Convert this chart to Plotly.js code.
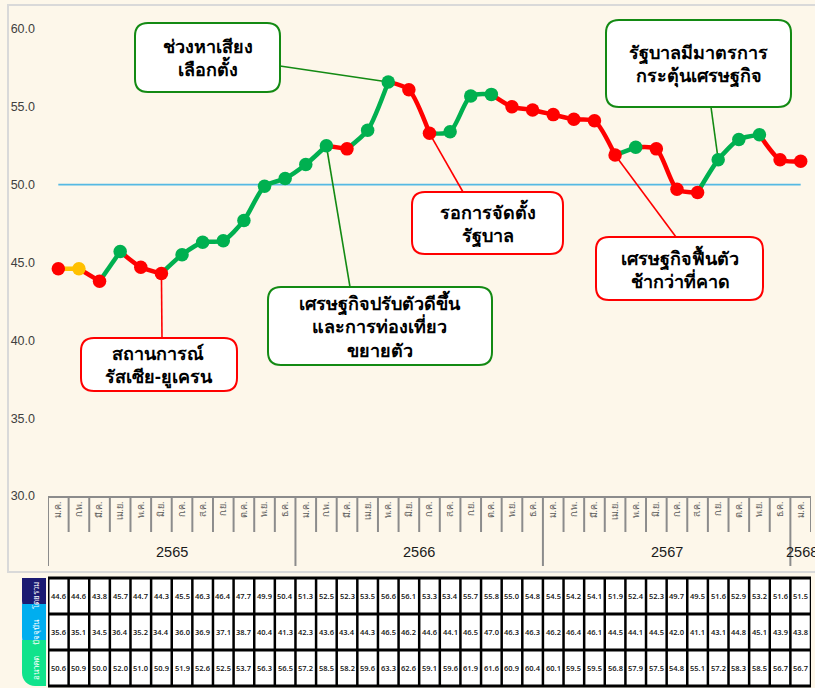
<!DOCTYPE html>
<html><head><meta charset="utf-8">
<script src="https://cdn.plot.ly/plotly-3.0.1.min.js"></script>
<style>html,body{margin:0;padding:0;background:#FDF7EA;overflow:hidden}#chart{width:815px;height:688px;}</style>
</head><body><div id="chart"></div>
<script>
// ---------------- data ----------------
const monthLabels = ['ม.ค.','ก.พ.','มี.ค.','เม.ย.','พ.ค.','มิ.ย.','ก.ค.','ส.ค.','ก.ย.','ต.ค.','พ.ย.','ธ.ค.',
  'ม.ค.','ก.พ.','มี.ค.','เม.ย.','พ.ค.','มิ.ย.','ก.ค.','ส.ค.','ก.ย.','ต.ค.','พ.ย.','ธ.ค.',
  'ม.ค.','ก.พ.','มี.ค.','เม.ย.','พ.ค.','มิ.ย.','ก.ค.','ส.ค.','ก.ย.','ต.ค.','พ.ย.','ธ.ค.',
  'ม.ค.'];
const yearLabels = ['2565','2566','2567','2568'];
const yearStart = [0, 12, 24, 36];
const overall = [44.6,44.6,43.8,45.7,44.7,44.3,45.5,46.3,46.4,47.7,49.9,50.4,
  51.3,52.5,52.3,53.5,56.6,56.1,53.3,53.4,55.7,55.8,55.0,54.8,
  54.5,54.2,54.1,51.9,52.4,52.3,49.7,49.5,51.6,52.9,53.2,51.6,51.5];
const current = [35.6,35.1,34.5,36.4,35.2,34.4,36.0,36.9,37.1,38.7,40.4,41.3,
  42.3,43.6,43.4,44.3,46.5,46.2,44.6,44.1,46.5,47.0,46.3,46.3,
  46.2,46.4,46.1,44.5,44.1,44.5,42.0,41.1,43.1,44.8,45.1,43.9,43.8];
const future = [50.6,50.9,50.0,52.0,51.0,50.9,51.9,52.6,52.5,53.7,56.3,56.5,
  57.2,58.5,58.2,59.6,63.3,62.6,59.1,59.6,61.9,61.6,60.9,60.4,
  60.1,59.5,59.5,56.8,57.9,57.5,54.8,55.1,57.2,58.3,58.5,56.7,56.7];
const rowNames = ['โดยรวม','ปัจจุบัน','อนาคต'];
const yTicks = [30,35,40,45,50,55,60];
const baseline = 50;
// callouts: text, anchor point index, colour type
const callouts = [
  {text:'ช่วงหาเสียง<br>เลือกตั้ง', idx:16, kind:'g'},
  {text:'สถานการณ์<br>รัสเซีย-ยูเครน', idx:5, kind:'r'},
  {text:'เศรษฐกิจปรับตัวดีขึ้น<br>และการท่องเที่ยว<br>ขยายตัว', idx:13, kind:'g'},
  {text:'รอการจัดตั้ง<br>รัฐบาล', idx:18, kind:'r'},
  {text:'เศรษฐกิจฟื้นตัว<br>ช้ากว่าที่คาด', idx:27, kind:'r'},
  {text:'รัฐบาลมีมาตรการ<br>กระตุ้นเศรษฐกิจ', idx:32, kind:'g'}
];

// ---------------- styling / layout geometry ----------------
const W=815, H=688, L=48, R=4, TOP=29, BOT=496;
const plotW = W-L-R;
const N = overall.length;
const RED='#FF0000', GREEN='#00B050', YEL='#FFC000';
const FONT = 'Noto Sans, Open Sans, DejaVu Sans, sans-serif';
const px = p => (p-L)/plotW;          // pixel x -> paper x
const py = p => 1 - p/H;              // pixel y -> paper y
// pixel -> data (for positioning callout line ends only)
const dx = p => (p-L)/plotW*N - 0.5;
const dy = p => 60 - (p-TOP)/(BOT-TOP)*30;

const pointColors = overall.map((v,i)=> i===0 ? RED : (v>overall[i-1]?GREEN:(v<overall[i-1]?RED:YEL)));

// runs of equal segment colour
const traces = [];
let s = 0;
for (let i=1;i<N;i++){
  const c = pointColors[i];
  if (i===N-1 || pointColors[i+1]!==c){
    const xs=[], ys=[];
    for (let k=s;k<=i;k++){xs.push(k); ys.push(overall[k]);}
    traces.push({x:xs,y:ys,type:'scatter',mode:'lines',hoverinfo:'skip',showlegend:false,
      line:{color:c,width:4.5,shape:'spline',smoothing:0.7}});
    s = i;
  }
}
traces.push({x:overall.map((v,i)=>i), y:overall, type:'scatter', mode:'markers', showlegend:false,
  marker:{size:13.5,color:pointColors,line:{width:0}}, cliponaxis:false});

const shapes = [];
const annotations = [];
const ann = o => annotations.push(Object.assign({showarrow:false,xanchor:'center',yanchor:'middle'},o));
// outer chart border
shapes.push({type:'rect',xref:'paper',yref:'paper',x0:px(8),x1:px(830),y0:py(5),y1:py(572),
  line:{color:'#D9D9D9',width:2},fillcolor:'rgba(0,0,0,0)',layer:'below'});
// 50 baseline
shapes.push({type:'line',xref:'x',yref:'y',x0:0,x1:N-1,y0:baseline,y1:baseline,
  line:{color:'#55B9E3',width:1.6},layer:'below'});
// month separators
for (let i=0;i<=N;i++){
  const isYear = yearStart.includes(i) && i<N || i===0;
  shapes.push({type:'line',xref:'x',yref:'paper',x0:i-0.5,x1:i-0.5,y0:py(BOT),y1:py(isYear?566:532),
    line:{color:'#8C8C8C',width:2}});
}
// year labels
yearLabels.forEach((t,k)=>{
  const a = yearStart[k], b = k<yearLabels.length-1 ? yearStart[k+1]-1 : yearStart[k]+0.1;
  ann({xref:'x',yref:'paper',x:(a+b)/2,y:py(552),text:t,
    font:{family:'Liberation Sans, Arial, sans-serif',size:14.5,color:'#1a1a1a'}});
});

// callout boxes
const boxGeo = [
  [135,23,280,92],[81,338,237,391],[268,287,492,365],[412,192,563,254],[596,237,763,300],[606,20,791,107]
];
const lineEnds = [[280,66],[162,338],[350,287],[463,192],[676,237],[711,107]];
function rrect(x0,y0,x1,y1,r){
  const P=(a,b)=>px(a)+','+py(b);
  return 'M'+P(x0+r,y0)+' L'+P(x1-r,y0)+' Q'+P(x1,y0)+' '+P(x1,y0+r)+' L'+P(x1,y1-r)+' Q'+P(x1,y1)+' '+P(x1-r,y1)+
    ' L'+P(x0+r,y1)+' Q'+P(x0,y1)+' '+P(x0,y1-r)+' L'+P(x0,y0+r)+' Q'+P(x0,y0)+' '+P(x0+r,y0)+' Z';
}
callouts.forEach((c,k)=>{
  const col = c.kind==='g' ? '#138A13' : '#FF0000';
  const [x0,y0,x1,y1] = boxGeo[k];
  const [ex,ey] = lineEnds[k];
  shapes.push({type:'line',xref:'x',yref:'y',x0:c.idx,y0:overall[c.idx],x1:dx(ex),y1:dy(ey),
    line:{color:col,width:1.6},layer:'below'});
  shapes.push({type:'path',xref:'paper',yref:'paper',path:rrect(x0,y0,x1,y1,13),
    line:{color:col,width:2},fillcolor:'#FFFFFF',layer:'above'});
  ann({xref:'paper',yref:'paper',x:px((x0+x1)/2),y:py((y0+y1)/2),text:c.text,
    font:{family:FONT,size:18,color:'#000',weight:'bold'}});
});

// table
const rowTop=[578,614,650], rowBot=[614,650,686];
shapes.push({type:'rect',xref:'x',yref:'paper',x0:-0.5,x1:N-0.5+0.1,y0:py(578),y1:py(686),
  fillcolor:'#FFFFFF',line:{color:'#000',width:3}});
[614,650].forEach(yy=>shapes.push({type:'line',xref:'x',yref:'paper',x0:-0.5,x1:N-0.4,y0:py(yy),y1:py(yy),
  line:{color:'#000',width:3}}));
for (let i=1;i<=N;i++) shapes.push({type:'line',xref:'x',yref:'paper',x0:i-0.5,x1:i-0.5,y0:py(578),y1:py(686),
  line:{color:'#000',width:2.5}});
[overall,current,future].forEach((arr,r)=>{
  arr.forEach((v,i)=>ann({xref:'x',yref:'paper',x:i,y:py((rowTop[r]+rowBot[r])/2),
    text:v.toFixed(1),font:{family:'Open Sans, sans-serif',size:7.5,color:'#111',weight:600}}));
});
// row headers (tabs)
const tabCols=['#1B1A72','#00AEEF','#10E38C'];
function tab(x0,y0,x1,y1,r){
  const P=(a,b)=>px(a)+','+py(b);
  return 'M'+P(x0,y0)+' L'+P(x1,y0)+' L'+P(x1,y1)+' L'+P(x0+r,y1)+' C'+P(x0+r*0.45,y1)+' '+P(x0,y1-r*0.45)+' '+P(x0,y1-r)+' Z';
}
tabCols.forEach((c,r)=>{
  shapes.push({type:'path',xref:'paper',yref:'paper',path:tab(22,r===0?578:rowTop[r]-10,46,rowBot[r],13),
    fillcolor:c,line:{width:0},layer:'above'});
});
tabCols.forEach((c,r)=>{
  ann({xref:'paper',yref:'paper',x:px(35),y:py((rowTop[r]+rowBot[r])/2),text:rowNames[r],
    textangle:-90,font:{family:FONT,size:8,color:'#FFFFFF'}});
});

const layout = {
  width:W,height:H,margin:{l:L,r:R,t:0,b:0},
  paper_bgcolor:'#FDF7EA',plot_bgcolor:'#FDF7EA',
  showlegend:false,
  xaxis:{range:[-0.5,N-0.5],tickvals:overall.map((v,i)=>i),ticktext:monthLabels,tickangle:-90,
    ticks:'',showgrid:false,zeroline:false,showline:true,linecolor:'#8C8C8C',linewidth:2,
    tickfont:{family:FONT,size:9,color:'#595959'},automargin:false,fixedrange:true},
  yaxis:{domain:[py(BOT),py(TOP)],range:[30,60],tickvals:yTicks,ticktext:yTicks.map(v=>v.toFixed(1)),
    showgrid:false,zeroline:false,showline:false,ticks:'',ticklabelstandoff:12,
    tickfont:{family:'Liberation Sans, Arial, sans-serif',size:12.5,color:'#404040'},automargin:false,fixedrange:true},
  shapes:shapes, annotations:annotations
};
Plotly.newPlot('chart',traces,layout,{staticPlot:true,displayModeBar:false});
</script></body></html>
